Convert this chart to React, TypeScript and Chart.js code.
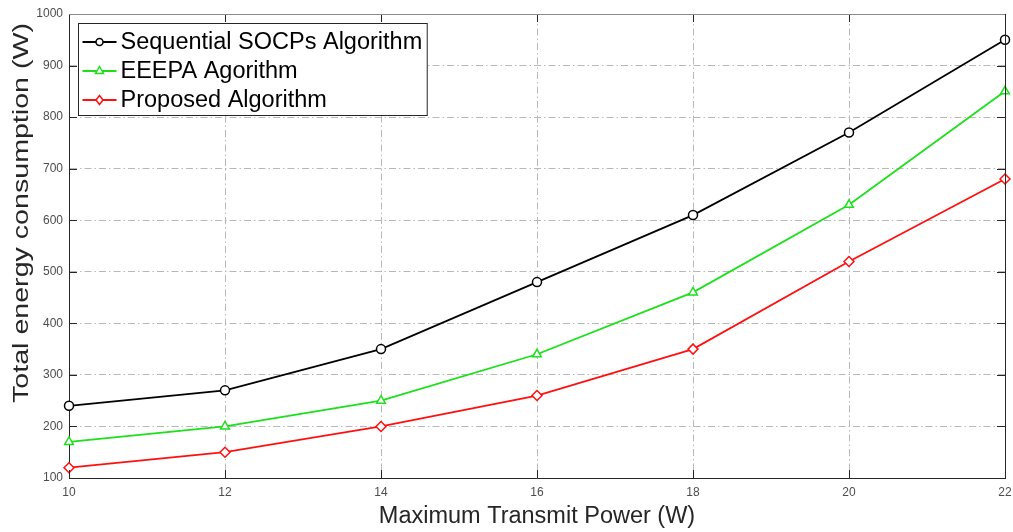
import React, { useEffect, useRef } from "react";
import { Chart, registerables, Plugin } from "chart.js";

Chart.register(...registerables);

// Maximum transmit power (W)
const transmitPower = [10, 12, 14, 16, 18, 20, 22];
// Total energy consumption (W) per algorithm
const sequentialSocp = [240, 270, 350, 480, 610, 770, 950];
const eeepa = [170, 200, 250, 340, 460, 630, 850];
const proposed = [120, 150, 200, 260, 350, 520, 680];

const yTicks = [100, 200, 300, 400, 500, 600, 700, 800, 900, 1000];

const seriesNames = [
  "Sequential SOCPs Algorithm",
  "EEEPA Agorithm",
  "Proposed Algorithm",
];
const seriesColors = ["#000000", "#1be01b", "#ff1010"];
const seriesMarkers = ["circle", "triangle", "rectRot"] as const;

const yTitle = "Total energy consumption (W)";

const FONT = "'Liberation Sans', Arial, Helvetica, sans-serif";

const toPoints = (ys: number[]) => ys.map((y, i) => ({ x: transmitPower[i], y }));

// Inward tick marks, the top/right frame, the tall y-axis title and the boxed legend.
const framePlugin: Plugin<"line"> = {
  id: "frame",
  afterDraw(chart) {
    const { ctx, chartArea: a } = chart;
    const xs = chart.scales.x;
    const ys = chart.scales.y;
    ctx.save();
    ctx.setLineDash([]);
    ctx.lineWidth = 1;
    ctx.strokeStyle = "#262626";
    const tl = 8;
    ctx.beginPath();
    for (const v of transmitPower) {
      const px = Math.round(xs.getPixelForValue(v)) + 0.5;
      ctx.moveTo(px, a.bottom);
      ctx.lineTo(px, a.bottom - tl);
      ctx.moveTo(px, a.top);
      ctx.lineTo(px, a.top + tl);
    }
    for (const v of yTicks) {
      const py = Math.round(ys.getPixelForValue(v)) + 0.5;
      ctx.moveTo(a.left, py);
      ctx.lineTo(a.left + tl, py);
      ctx.moveTo(a.right, py);
      ctx.lineTo(a.right - tl, py);
    }
    ctx.stroke();
    // top edge (lighter) and right edge
    ctx.strokeStyle = "#8a8a8a";
    ctx.beginPath();
    ctx.moveTo(a.left, Math.round(a.top) + 0.5);
    ctx.lineTo(a.right, Math.round(a.top) + 0.5);
    ctx.stroke();
    ctx.strokeStyle = "#262626";
    ctx.beginPath();
    ctx.moveTo(Math.round(a.right) + 0.5, a.top);
    ctx.lineTo(Math.round(a.right) + 0.5, a.bottom);
    ctx.stroke();

    // y-axis title, drawn elongated along its reading direction
    ctx.save();
    ctx.translate(28, 213);
    ctx.rotate(-Math.PI / 2);
    ctx.font = `22px ${FONT}`;
    const tw = ctx.measureText(yTitle).width;
    ctx.scale(380 / tw, 1);
    ctx.fillStyle = "#262626";
    ctx.textAlign = "center";
    ctx.textBaseline = "alphabetic";
    ctx.fillText(yTitle, 0, 0);
    ctx.restore();

    // legend
    const bx = 78.5;
    const by = 23.5;
    const rowH = 29;
    ctx.font = `23.5px ${FONT}`;
    let maxW = 0;
    for (const n of seriesNames) maxW = Math.max(maxW, ctx.measureText(n).width);
    const textX = bx + 42;
    const bw = textX - bx + maxW + 5;
    const bh = rowH * seriesNames.length + 5;
    ctx.fillStyle = "#ffffff";
    ctx.fillRect(bx, by, bw, bh);
    ctx.strokeStyle = "#262626";
    ctx.lineWidth = 1;
    ctx.strokeRect(bx, by, bw, bh);
    seriesNames.forEach((name, i) => {
      const cy = by + 18.5 + i * rowH;
      ctx.strokeStyle = seriesColors[i];
      ctx.lineWidth = 1.8;
      ctx.beginPath();
      ctx.moveTo(bx + 4, cy);
      ctx.lineTo(bx + 38, cy);
      ctx.stroke();
      ctx.fillStyle = "#ffffff";
      ctx.lineWidth = 1.5;
      const mx = bx + 21;
      const r = 3.5;
      ctx.beginPath();
      if (seriesMarkers[i] === "circle") {
        ctx.arc(mx, cy, r, 0, Math.PI * 2);
      } else if (seriesMarkers[i] === "triangle") {
        ctx.moveTo(mx, cy - r - 1);
        ctx.lineTo(mx + r + 0.5, cy + r - 1);
        ctx.lineTo(mx - r - 0.5, cy + r - 1);
        ctx.closePath();
      } else {
        ctx.moveTo(mx, cy - r - 1);
        ctx.lineTo(mx + r, cy);
        ctx.lineTo(mx, cy + r + 1);
        ctx.lineTo(mx - r, cy);
        ctx.closePath();
      }
      ctx.fill();
      ctx.stroke();
      ctx.fillStyle = "#000000";
      ctx.textBaseline = "middle";
      ctx.textAlign = "left";
      ctx.fillText(name, textX, cy + 1);
    });
    ctx.restore();
  },
};

export default function App() {
  const canvasRef = useRef<HTMLCanvasElement | null>(null);

  useEffect(() => {
    const canvas = canvasRef.current;
    if (!canvas) return;
    const datasets = [sequentialSocp, eeepa, proposed].map((vals, i) => ({
      label: seriesNames[i],
      data: toPoints(vals),
      borderColor: seriesColors[i],
      backgroundColor: "#ffffff",
      borderWidth: 1.8,
      pointStyle: seriesMarkers[i],
      pointRadius: i === 0 ? 4.5 : 5,
      pointBorderWidth: 1.5,
      pointBackgroundColor: "#ffffff",
      pointBorderColor: seriesColors[i],
      tension: 0,
      clip: false as const,
    }));

    const chart = new Chart(canvas, {
      type: "line",
      data: { datasets },
      options: {
        responsive: false,
        animation: false,
        layout: { padding: { top: 14, right: 8, bottom: 0, left: 0 } },
        plugins: {
          legend: { display: false },
          tooltip: { enabled: false },
        },
        scales: {
          x: {
            type: "linear",
            min: 10,
            max: 22,
            afterFit: (s) => {
              s.height = 54;
              s.paddingLeft = 0;
              s.paddingRight = 0;
            },
            afterBuildTicks: (s) => {
              s.ticks = transmitPower.map((v) => ({ value: v }));
            },
            ticks: {
              padding: 7,
              color: "#4d4d4d",
              font: { family: FONT, size: 12 },
              maxRotation: 0,
            },
            grid: {
              color: "#b8b8b8",
              lineWidth: 1,
              drawTicks: false,
            },
            border: { color: "#262626", width: 1, dash: [7, 3, 1.5, 3] },
            title: {
              display: true,
              text: "Maximum Transmit Power (W)",
              color: "#262626",
              font: { family: FONT, size: 23.5 },
              padding: { top: 0, bottom: 1 },
            },
          },
          y: {
            type: "linear",
            min: 100,
            max: 1000,
            afterFit: (s) => {
              s.width = 69;
            },
            afterBuildTicks: (s) => {
              s.ticks = yTicks.map((v) => ({ value: v }));
            },
            ticks: {
              padding: 6,
              color: "#4d4d4d",
              font: { family: FONT, size: 12 },
              callback: (v) => String(v),
            },
            grid: {
              color: "#b8b8b8",
              lineWidth: 1,
              drawTicks: false,
            },
            border: { color: "#262626", width: 1, dash: [7, 3, 1.5, 3] },
          },
        },
      },
      plugins: [framePlugin],
    });
    return () => chart.destroy();
  }, []);

  return (
    <div style={{ position: "fixed", left: 0, top: 0, width: 1013, height: 532, background: "#ffffff" }}>
      <canvas ref={canvasRef} width={1013} height={532} style={{ display: "block" }} />
    </div>
  );
}
